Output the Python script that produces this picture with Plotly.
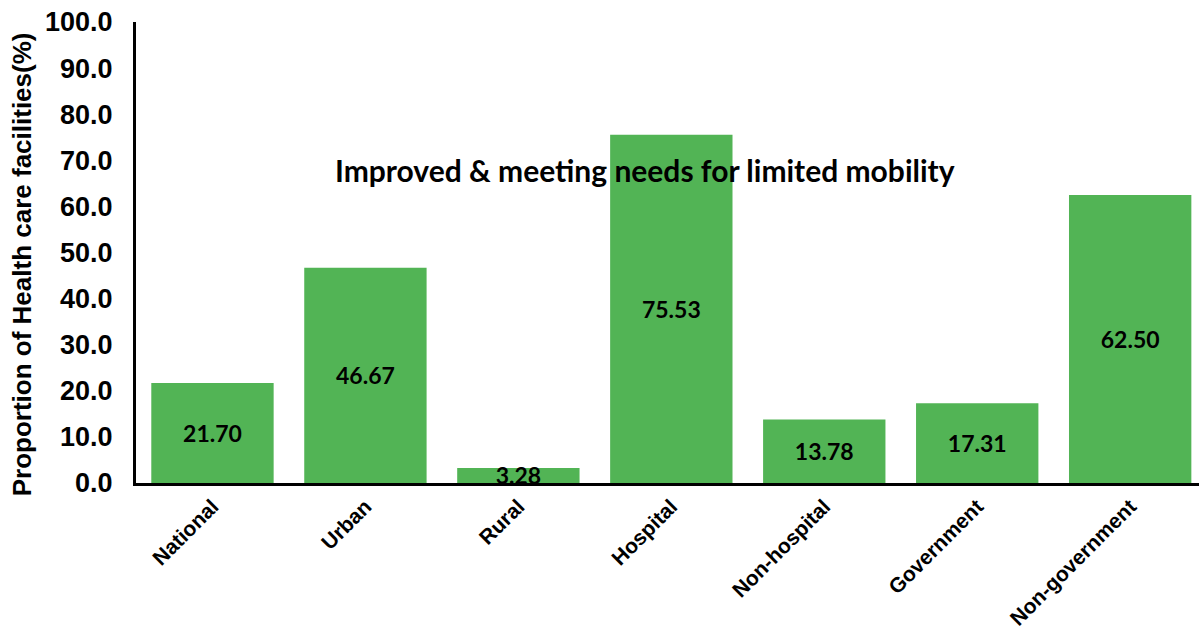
import plotly.graph_objects as go

categories = ["National", "Urban", "Rural", "Hospital", "Non-hospital", "Government", "Non-government"]
values = [21.70, 46.67, 3.28, 75.53, 13.78, 17.31, 62.50]
y_ticks = [0, 10, 20, 30, 40, 50, 60, 70, 80, 90, 100]
y_tick_text = [f"{v:.1f}" for v in y_ticks]

bar_color = "#52B455"

fig = go.Figure(
    go.Bar(
        x=categories,
        y=values,
        marker=dict(color=bar_color, line=dict(width=0)),
        text=[f"{v:.2f}" for v in values],
        textposition="inside",
        insidetextanchor="middle",
        textangle=0,
        constraintext="none",
        textfont=dict(family="Lato", size=23, color="black", weight="bold"),
        width=0.8,
    )
)

fig.update_layout(
    width=1199,
    height=633,
    margin=dict(l=136, r=0, t=22, b=150),
    plot_bgcolor="white",
    paper_bgcolor="white",
    showlegend=False,
    uniformtext=dict(mode=False),
    xaxis=dict(
        range=[-0.5, 6.45],
        showline=True,
        linecolor="black",
        linewidth=3,
        showgrid=False,
        zeroline=False,
        tickangle=-45,
        ticks="",
        tickfont=dict(family="Liberation Sans", size=21, color="black", weight="bold"),
    ),
    yaxis=dict(
        range=[0, 100],
        tickvals=y_ticks,
        ticktext=y_tick_text,
        showline=True,
        linecolor="black",
        linewidth=3,
        showgrid=False,
        zeroline=False,
        ticks="",
        ticklabelstandoff=15,
        tickfont=dict(family="Liberation Sans", size=27, color="black", weight="bold"),
    ),
    annotations=[
        dict(
            text="Proportion of Health care facilities(%)",
            xref="paper", yref="paper",
            x=-0.107, y=0.475,
            xanchor="center", yanchor="middle",
            textangle=-90,
            showarrow=False,
            font=dict(family="Liberation Sans", size=26, color="black", weight="bold"),
        ),
        dict(
            text="Improved & meeting needs for limited mobility",
            xref="paper", yref="paper",
            x=(645 - 136) / (1199 - 136), y=(483 - 170) / 461,
            xanchor="center", yanchor="middle",
            showarrow=False,
            font=dict(family="Lato", size=30, color="black", weight="bold"),
        ),
    ],
)

fig.write_html("out.html")
